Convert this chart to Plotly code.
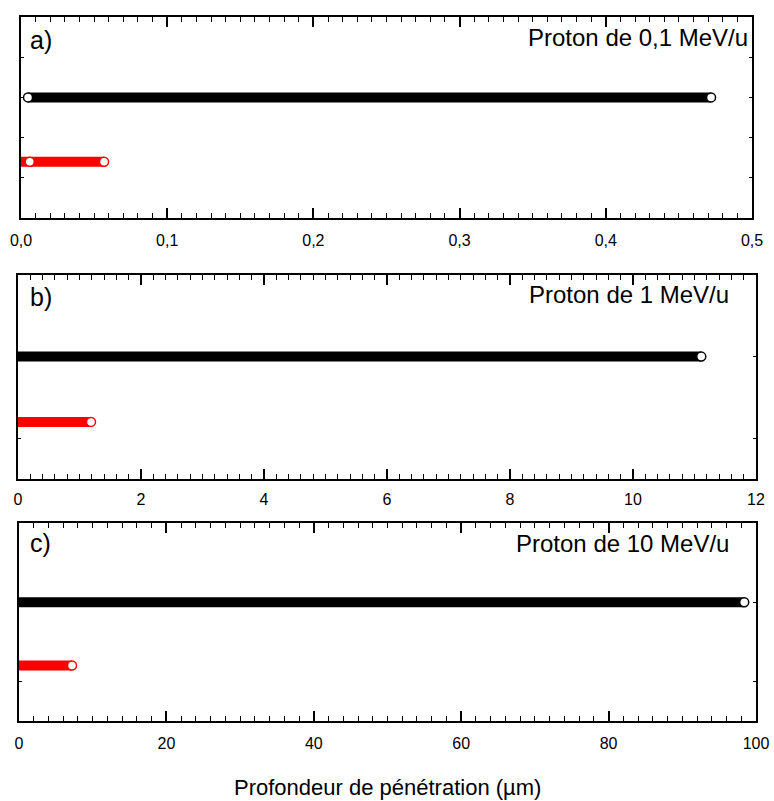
import plotly.graph_objects as go

W, H = 774, 801

# ---- data (penetration depth, µm) ----
panel_labels = ["a)", "b)", "c)"]
panel_titles = ["Proton de 0,1 MeV/u", "Proton de 1 MeV/u", "Proton de 10 MeV/u"]
x_max = [0.5, 12, 100]
x_dtick = [0.1, 2, 20]
x_minor = [0.01, 0.2, 2]
x_fmt = [".1f", "d", "d"]

black_start = [0.0048, 0.0, 0.0]
black_end = [0.472, 11.11, 98.4]
red_start = [0.0, 0.0, 0.0]
red_end = [0.0568, 1.187, 7.19]
black_first_marker = [0.0048, None, None]
red_first_marker = [0.006, None, None]

y_black = 3.0
y_red = 1.4
y_ticks = [[1, 2, 3, 4], [1, 3], [1, 3]]

# ---- layout (pixel boxes of the three plot areas) ----
boxes = [(21, 752, 17, 218), (18, 756, 275, 479), (19, 756, 523, 721)]
label_standoff = [7, 5, 7]

FONT = "Liberation Sans, Arial, sans-serif"
fig = go.Figure()
layout = dict(
    width=W, height=H, margin=dict(l=0, r=0, t=0, b=0, autoexpand=False),
    paper_bgcolor="white", plot_bgcolor="white", showlegend=False,
    separators=", ", font=dict(family=FONT, color="black"),
)
annotations = []

for i in range(3):
    xl, xr, yt, yb = boxes[i]
    sfx = "" if i == 0 else str(i + 1)
    xa, ya = "x" + sfx, "y" + sfx
    layout["xaxis" + sfx] = dict(
        domain=[xl / W, xr / W], range=[0, x_max[i]], anchor=ya,
        showline=True, linecolor="black", linewidth=2, mirror="ticks",
        ticks="inside", ticklen=10, tickwidth=1.5, tickcolor="black",
        dtick=x_dtick[i], tick0=0, tickformat=x_fmt[i],
        tickfont=dict(size=16, family=FONT, color="black"),
        ticklabelstandoff=label_standoff[i],
        showgrid=False, zeroline=False, automargin=False,
        minor=dict(ticks="inside", ticklen=5, tickwidth=1.2, dtick=x_minor[i],
                   tick0=0, tickcolor="black", showgrid=False),
    )
    layout["yaxis" + sfx] = dict(
        domain=[1 - yb / H, 1 - yt / H], range=[0, 5], anchor=xa,
        showline=True, linecolor="black", linewidth=2, mirror="ticks",
        ticks="inside", ticklen=3, tickwidth=1, tickcolor="black",
        tickvals=y_ticks[i], showticklabels=False,
        showgrid=False, zeroline=False, automargin=False,
    )
    for (s, e, fm, y, col) in [
        (black_start[i], black_end[i], black_first_marker[i], y_black, "black"),
        (red_start[i], red_end[i], red_first_marker[i], y_red, "#ff0000"),
    ]:
        fig.add_trace(go.Scatter(
            x=[s, e], y=[y, y], mode="lines", xaxis=xa, yaxis=ya,
            line=dict(color=col, width=10), hoverinfo="skip", cliponaxis=True,
        ))
        mx = [e] if fm is None else [fm, e]
        fig.add_trace(go.Scatter(
            x=mx, y=[y] * len(mx), mode="markers", xaxis=xa, yaxis=ya,
            marker=dict(symbol="circle", size=9, color="white",
                        line=dict(color=col, width=1.5)),
            hoverinfo="skip", cliponaxis=False,
        ))

label_pos = [(28, 40), (28, 297), (28, 543)]
title_pos = [(750, 37), (731, 294), (731, 543)]
for i in range(3):
    annotations.append(dict(
        text=panel_labels[i], xref="paper", yref="paper",
        x=label_pos[i][0] / W, y=1 - label_pos[i][1] / H,
        xanchor="left", yanchor="middle", showarrow=False,
        font=dict(size=25, family=FONT, color="black"),
    ))
    annotations.append(dict(
        text=panel_titles[i], xref="paper", yref="paper",
        x=title_pos[i][0] / W, y=1 - title_pos[i][1] / H,
        xanchor="right", yanchor="middle", showarrow=False,
        font=dict(size=24, family=FONT, color="black"),
    ))
annotations.append(dict(
    text="Profondeur de pénétration (µm)", xref="paper", yref="paper",
    x=387 / W, y=1 - 787 / H, xanchor="center", yanchor="middle",
    showarrow=False, font=dict(size=22, family=FONT, color="black"),
))
layout["annotations"] = annotations
fig.update_layout(**layout)
fig.write_html(
    "out.html",
    config={"displayModeBar": False},
    post_script="document.body.style.margin='0';document.body.style.overflow='hidden';",
)
